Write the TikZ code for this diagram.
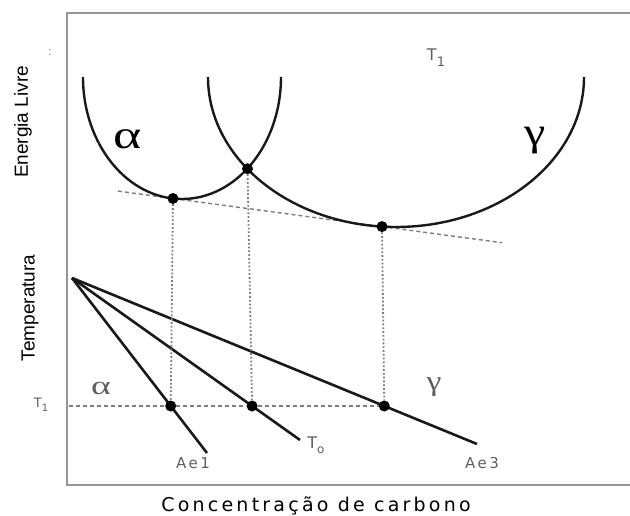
\documentclass[tikz,border=0pt]{standalone}
\usepackage{fontspec}
\usepackage{xcolor}
\definecolor{meucinza}{RGB}{150,150,150}
\definecolor{cinzatraco}{RGB}{125,125,125}
\definecolor{cinzaescuro}{RGB}{95,95,95}
\definecolor{quasepreto}{RGB}{25,25,25}
\newfontfamily\fonteeixo{Liberation Sans}
\newfontfamily\fonterotulo[LetterSpace=17]{DejaVu Sans}
\newfontfamily\fontesans{DejaVu Sans}
\newfontfamily\fontegrega{Liberation Serif}

\begin{document}
\begin{tikzpicture}[
    x=1pt, y=-1pt,
    every node/.style={inner sep=0pt},
    curva/.style={line width=2.4pt, color=quasepreto},
    reta/.style={line width=2.6pt, color=quasepreto},
    ponto/.style={circle, fill=black, minimum size=11pt, inner sep=0pt},
    tracejado/.style={dash pattern=on 4pt off 3pt, line width=1.4pt, color=cinzatraco},
    pontilhado/.style={dash pattern=on 1.8pt off 2pt, line width=1.8pt, color=cinzatraco}
]

\useasboundingbox (0,0) rectangle (630,516);

% moldura
\draw[line width=2pt, color=meucinza] (640,13) -- (67,13) -- (67,485) -- (640,485);

% ------------------------------------------------
% Energia livre
% ------------------------------------------------

\coordinate (tanIni) at (118,191.1);
\coordinate (tanFim) at (502,242.7);
\draw[tracejado] (tanIni) -- (tanFim);

\draw[curva] (83,77) arc[start angle=180, end angle=0, x radius=99, y radius=122];
\draw[curva] (208,77) arc[start angle=180, end angle=0, x radius=188, y radius=150];

\node[ponto] (pAlfa) at (173,198.5) {};
\node[ponto] (pCruz) at (247.5,168.7) {};
\node[ponto] (pGama) at (382,226.6) {};

\node[
    xscale=1.35
] (alfaSup) at (128,139)
{\fontegrega\fontsize{40}{40}\selectfont α};

\node[
    xscale=1.2
] (gamaSup) at (535,141)
{\fontegrega\fontsize{40}{40}\selectfont γ};

\node[
    text=cinzaescuro
] (tSup) at (436,58)
{\fontesans\fontsize{16}{16}\selectfont T\raisebox{-6pt}{\fontsize{13}{13}\selectfont 1}};

\node[
    text=meucinza
] (marca) at (50,52)
{\fontesans\fontsize{12}{12}\selectfont :};

% ------------------------------------------------
% Temperatura
% ------------------------------------------------

\coordinate (vertice) at (72,278);
\coordinate (fimAe1) at (207,453);
\coordinate (fimTo) at (300,440);
\coordinate (fimAe3) at (477,444);
\coordinate (inicioT1) at (69,406);

\draw[reta] (vertice) -- (fimAe1);
\draw[reta] (vertice) -- (fimTo);
\draw[reta] (vertice) -- (fimAe3);

\node[ponto] (qAe1) at (170.7,406) {};
\node[ponto] (qTo) at (252.1,406) {};
\node[ponto] (qAe3) at (384.3,406) {};

\draw[tracejado] (inicioT1) -- (qAe1);
\draw[tracejado] (qAe1) -- (qTo);
\draw[tracejado] (qTo) -- (qAe3);

\draw[pontilhado] (pAlfa) -- (qAe1);
\draw[pontilhado] (pCruz) -- (qTo);
\draw[pontilhado] (pGama) -- (qAe3);

\node[
    text=cinzaescuro,
    xscale=1.45
] (alfaInf) at (101,388)
{\fontegrega\fontsize{26}{26}\selectfont α};

\node[
    text=cinzaescuro,
    xscale=1.2
] (gamaInf) at (434,387)
{\fontegrega\fontsize{28}{28}\selectfont γ};

\node[
    text=cinzaescuro
] (tInf) at (41,405)
{\fontesans\fontsize{13}{13}\selectfont T\raisebox{-4pt}{\fontsize{10}{10}\selectfont 1}};

\node[
    text=cinzaescuro
] (rotAe1) at (193,463)
{\fonterotulo\fontsize{15}{15}\selectfont Ae1};

\node[
    text=cinzaescuro
] (rotTo) at (316,445)
{\fontesans\fontsize{16}{16}\selectfont T\raisebox{-5pt}{\fontsize{12}{12}\selectfont o}};

\node[
    text=cinzaescuro
] (rotAe3) at (482,463)
{\fonterotulo\fontsize{15}{15}\selectfont Ae3};

% ------------------------------------------------
% Eixos
% ------------------------------------------------

\node[
    rotate=90
] (eixoEnergia) at (23,122)
{\fonteeixo\fontsize{19}{19}\selectfont Energia Livre};

\node[
    rotate=90
] (eixoTemp) at (30,308)
{\fonteeixo\fontsize{19}{19}\selectfont Temperatura};

\node (eixoConc) at (316,506)
{\fonterotulo\fontsize{19}{19}\selectfont Concentração de carbono};

\end{tikzpicture}
\end{document}
